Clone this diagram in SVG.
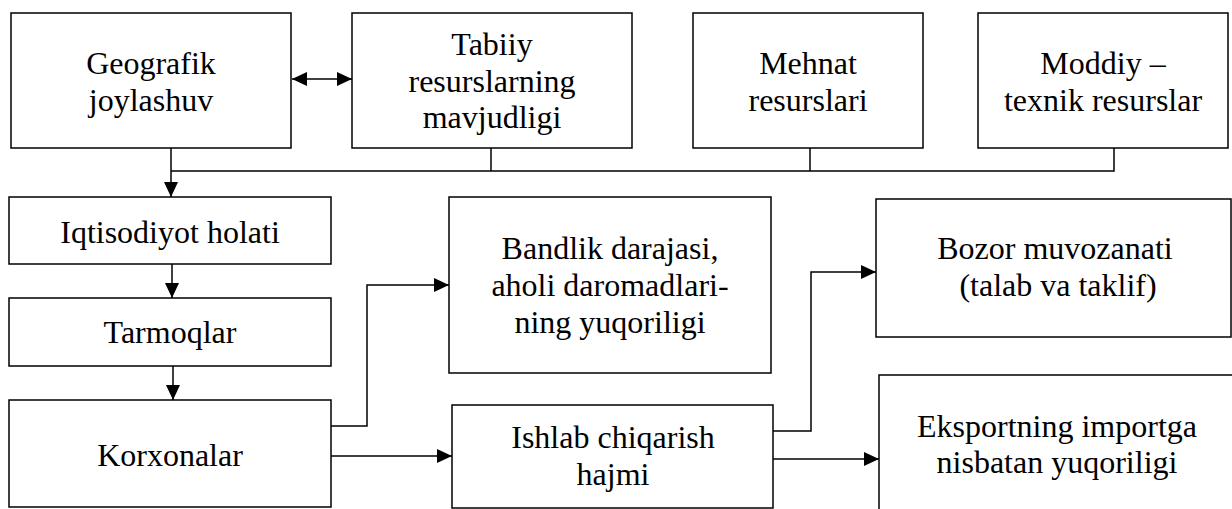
<svg xmlns="http://www.w3.org/2000/svg" width="1232" height="509" viewBox="0 0 1232 509">
<style>
.box{fill:#fff;stroke:#000;stroke-width:1.5}
.t{font-family:"Liberation Serif","Times New Roman",serif;font-size:32px;fill:#000;text-anchor:middle}
.c{fill:none;stroke:#000;stroke-width:1.5}
</style>
<defs>
<marker id="ah" markerUnits="userSpaceOnUse" markerWidth="15" markerHeight="14" refX="15" refY="7" orient="auto-start-reverse">
<path d="M0,0 L15,7 L0,14 z" fill="#000"/>
</marker>
</defs>
<rect width="1232" height="509" fill="#fff"/>
<g id="connectors">
<line class="c" x1="292" y1="79" x2="352" y2="79" marker-start="url(#ah)" marker-end="url(#ah)"/>
<polyline class="c" points="491,148 491,171"/>
<polyline class="c" points="810,148 810,171"/>
<polyline class="c" points="1114,148 1114,171 171,171"/>
<line class="c" x1="171" y1="148" x2="171" y2="197" marker-end="url(#ah)"/>
<line class="c" x1="172" y1="264" x2="172" y2="298" marker-end="url(#ah)"/>
<line class="c" x1="173" y1="366" x2="173" y2="400" marker-end="url(#ah)"/>
<polyline class="c" points="331,426 367,426 367,285 449,285" marker-end="url(#ah)"/>
<line class="c" x1="331" y1="456" x2="452" y2="456" marker-end="url(#ah)"/>
<polyline class="c" points="773,431 811,431 811,272 876,272" marker-end="url(#ah)"/>
<line class="c" x1="773" y1="459" x2="879" y2="459" marker-end="url(#ah)"/>
</g>
<g id="geografik">
<rect class="box" x="11" y="13" width="280" height="135"/>
<text class="t" x="151" y="74">Geografik</text>
<text class="t" x="151" y="111">joylashuv</text>
</g>
<g id="tabiiy">
<rect class="box" x="352" y="13" width="280" height="135"/>
<text class="t" x="492" y="55">Tabiiy</text>
<text class="t" x="492" y="92">resurslarning</text>
<text class="t" x="492" y="128">mavjudligi</text>
</g>
<g id="mehnat">
<rect class="box" x="693" y="13" width="230" height="135"/>
<text class="t" x="808" y="74">Mehnat</text>
<text class="t" x="808" y="111">resurslari</text>
</g>
<g id="moddiy">
<rect class="box" x="978" y="13" width="250" height="135"/>
<text class="t" x="1103" y="74">Moddiy –</text>
<text class="t" x="1103" y="111">texnik resurslar</text>
</g>
<g id="iqtisodiyot">
<rect class="box" x="9" y="197" width="322" height="67"/>
<text class="t" x="170" y="243">Iqtisodiyot holati</text>
</g>
<g id="tarmoqlar">
<rect class="box" x="9" y="298" width="322" height="68"/>
<text class="t" x="170" y="343">Tarmoqlar</text>
</g>
<g id="korxonalar">
<rect class="box" x="9" y="400" width="322" height="107"/>
<text class="t" x="170" y="466">Korxonalar</text>
</g>
<g id="bandlik">
<rect class="box" x="449" y="197" width="322" height="176"/>
<text class="t" x="610" y="259">Bandlik darajasi,</text>
<text class="t" x="610" y="296">aholi daromadlari-</text>
<text class="t" x="610" y="333">ning yuqoriligi</text>
</g>
<g id="ishlab">
<rect class="box" x="452" y="405" width="321" height="103"/>
<text class="t" x="613" y="448">Ishlab chiqarish</text>
<text class="t" x="613" y="485">hajmi</text>
</g>
<g id="bozor">
<rect class="box" x="876" y="199" width="355" height="138"/>
<text class="t" x="1055" y="259">Bozor muvozanati</text>
<text class="t" x="1058" y="296">(talab va taklif)</text>
</g>
<g id="eksport">
<rect class="box" x="879" y="375" width="360" height="150"/>
<text class="t" x="1057" y="437">Eksportning importga</text>
<text class="t" x="1057" y="473">nisbatan yuqoriligi</text>
</g>
</svg>
